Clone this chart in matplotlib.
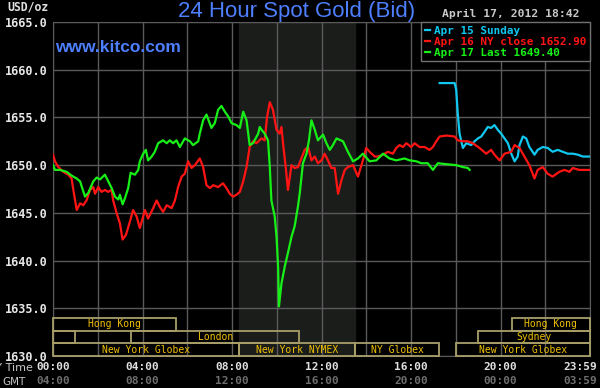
import matplotlib
matplotlib.use('Agg')
import matplotlib.pyplot as plt
from matplotlib.patches import Rectangle

# hours (New York time) and bid prices
green_t = [0.00, 0.09, 0.31, 0.61, 0.83, 1.06, 1.21, 1.43, 1.58, 1.80, 1.95, 2.10, 2.32, 2.47,
           2.62, 2.77, 2.92, 2.99, 3.11, 3.21, 3.36, 3.47, 3.66, 3.81, 3.88, 4.03, 4.15, 4.25,
           4.41, 4.55, 4.70, 4.92, 5.08, 5.22, 5.37, 5.52, 5.67, 5.89, 6.12, 6.26, 6.49, 6.56,
           6.71, 6.86, 7.08, 7.23, 7.38, 7.53, 7.68, 7.83, 7.98, 8.20, 8.35, 8.50, 8.65, 8.79,
           8.94, 9.17, 9.24, 9.32, 9.46, 9.61, 9.69, 9.76, 9.91, 9.99, 10.06, 10.10, 10.21,
           10.36, 10.50, 10.66, 10.80, 10.95, 11.03, 11.17, 11.33, 11.44, 11.55, 11.70, 11.84,
           12.07, 12.22, 12.37, 12.51, 12.67, 12.96, 13.18, 13.41, 13.63, 13.85, 14.15, 14.45,
           14.75, 15.04, 15.34, 15.71, 15.94, 16.24, 16.46, 16.75, 16.98, 17.20, 17.58, 18.02,
           18.32, 18.54, 18.62]
green_p = [1650.0, 1649.5, 1649.5, 1649.3, 1648.9, 1648.6, 1648.3, 1646.7, 1647.1, 1648.3, 1648.7,
           1648.5, 1649.0, 1648.3, 1647.6, 1646.7, 1646.4, 1646.9, 1645.9, 1646.5, 1647.6, 1649.2,
           1649.0, 1649.5, 1650.4, 1651.2, 1651.6, 1650.5, 1650.9, 1651.4, 1652.3, 1652.6, 1652.3,
           1652.6, 1652.3, 1652.6, 1651.9, 1652.8, 1652.5, 1652.1, 1652.5, 1653.3, 1654.7, 1655.3,
           1653.9, 1654.4, 1655.8, 1656.2, 1655.6, 1655.1, 1654.4, 1654.2, 1653.9, 1655.6, 1654.7,
           1652.1, 1652.3, 1653.3, 1654.0, 1653.7, 1653.3, 1652.6, 1649.8, 1646.3, 1644.6, 1642.5,
           1639.4, 1635.2, 1637.6, 1639.4, 1640.8, 1642.5, 1643.6, 1645.7, 1647.1, 1650.2, 1651.2,
           1652.6, 1654.7, 1653.7, 1652.6, 1653.2, 1652.3, 1651.6, 1652.1, 1652.8, 1652.5, 1651.4,
           1650.4, 1650.7, 1651.2, 1650.4, 1650.5, 1651.2, 1650.7, 1650.5, 1650.7, 1650.5, 1650.4,
           1650.2, 1650.2, 1649.5, 1650.2, 1650.1, 1650.0, 1649.8, 1649.7, 1649.5]

red_t = [0.00, 0.09, 0.24, 0.46, 0.68, 0.83, 0.91, 1.06, 1.21, 1.35, 1.50, 1.65, 1.80, 1.88, 2.02,
         2.17, 2.32, 2.47, 2.62, 2.69, 2.84, 2.99, 3.11, 3.26, 3.44, 3.58, 3.74, 3.88, 4.11, 4.25,
         4.48, 4.63, 4.78, 4.92, 5.08, 5.30, 5.45, 5.59, 5.75, 5.89, 6.04, 6.19, 6.34, 6.56, 6.71,
         6.86, 7.01, 7.16, 7.38, 7.60, 7.75, 7.90, 8.05, 8.20, 8.35, 8.50, 8.65, 8.79, 8.94, 9.09,
         9.32, 9.46, 9.57, 9.69, 9.83, 9.99, 10.13, 10.21, 10.28, 10.40, 10.50, 10.66, 10.80,
         10.95, 11.10, 11.25, 11.40, 11.55, 11.70, 11.84, 12.00, 12.14, 12.29, 12.44, 12.59,
         12.74, 12.89, 13.04, 13.18, 13.41, 13.63, 13.85, 14.00, 14.15, 14.38, 14.52, 14.75,
         14.97, 15.19, 15.34, 15.49, 15.64, 15.79, 16.01, 16.16, 16.38, 16.61, 16.83, 16.98,
         17.13, 17.28, 17.58, 17.95, 18.09, 18.32, 18.54, 18.76, 19.06, 19.36, 19.58, 19.73,
         19.96, 20.18, 20.48, 20.63, 20.85, 21.07, 21.29, 21.52, 21.66, 21.89, 22.11, 22.33,
         22.63, 22.86, 23.08, 23.23, 23.53, 23.95]
red_p = [1651.1, 1650.4, 1649.8, 1649.3, 1649.0, 1648.6, 1647.4, 1645.3, 1646.0, 1645.8, 1646.3,
         1647.4, 1647.7, 1647.0, 1647.7, 1647.2, 1647.4, 1647.2, 1647.4, 1646.3, 1645.0, 1643.9,
         1642.2, 1642.7, 1644.1, 1645.3, 1644.6, 1643.4, 1645.3, 1644.4, 1645.5, 1646.3, 1645.6,
         1645.1, 1645.8, 1645.5, 1646.3, 1647.7, 1648.8, 1649.1, 1650.4, 1649.7, 1650.0, 1650.7,
         1649.8, 1647.9, 1647.6, 1647.9, 1647.7, 1648.1, 1647.6, 1647.0, 1646.7, 1646.9, 1647.2,
         1648.3, 1649.8, 1651.9, 1652.5, 1652.3, 1652.8, 1652.6, 1655.1, 1656.6, 1655.8, 1653.7,
         1653.3, 1654.0, 1652.3, 1649.8, 1647.4, 1650.0, 1649.7, 1649.8, 1650.7, 1651.6, 1651.9,
         1650.5, 1650.9, 1650.2, 1650.5, 1651.2, 1650.5, 1649.7, 1649.7, 1647.0, 1648.4, 1649.5,
         1649.8, 1650.0, 1648.8, 1650.5, 1651.8, 1651.4, 1650.9, 1650.9, 1651.1, 1651.4, 1651.2,
         1651.8, 1652.1, 1651.9, 1652.3, 1651.9, 1652.3, 1651.9, 1651.9, 1651.6, 1651.9, 1652.5,
         1653.0, 1653.1, 1653.0, 1652.6, 1652.5, 1652.5, 1652.3, 1651.8, 1651.2, 1651.6, 1651.1,
         1650.5, 1651.2, 1651.4, 1652.1, 1651.8, 1650.9, 1650.0, 1648.6, 1649.5, 1649.8, 1649.1,
         1648.8, 1649.3, 1649.5, 1649.3, 1649.7, 1649.5, 1649.5]

cyan_t = [17.28, 17.95, 18.02, 18.09, 18.17, 18.25, 18.32, 18.47, 18.69, 18.84, 18.99, 19.14,
          19.29, 19.43, 19.58, 19.73, 19.88, 20.03, 20.18, 20.33, 20.48, 20.63, 20.77, 20.85,
          21.00, 21.15, 21.29, 21.52, 21.66, 21.89, 22.11, 22.33, 22.56, 22.78, 23.01, 23.23,
          23.45, 23.68, 23.95]
cyan_p = [1658.6, 1658.6, 1657.9, 1655.4, 1653.3, 1652.5, 1651.8, 1652.3, 1652.1, 1652.5, 1652.8,
          1653.0, 1653.5, 1654.0, 1653.9, 1654.2, 1653.7, 1653.3, 1652.8, 1652.3, 1651.2, 1650.4,
          1650.9, 1652.1, 1653.0, 1652.8, 1651.9, 1651.1, 1651.6, 1651.9, 1651.8, 1651.4, 1651.6,
          1651.4, 1651.2, 1651.2, 1651.1, 1650.9, 1650.9]

series_labels = ['Apr 15 Sunday', 'Apr 16 NY close 1652.90', 'Apr 17 Last 1649.40']

# market sessions: (row, start hour, end hour, name)
sessions = [(0, 0.0, 5.5, 'Hong Kong'), (0, 20.5, 24.0, 'Hong Kong'),
            (1, 0.0, 1.0, ''), (1, 3.5, 11.0, 'London'), (1, 19.0, 24.0, 'Sydney'),
            (2, 0.0, 8.333, 'New York Globex'), (2, 8.333, 13.5, 'New York NYMEX'),
            (2, 13.5, 17.25, 'NY Globex'), (2, 18.0, 24.0, 'New York Globex')]
nymex_open, nymex_close = 8.333, 13.5

ny_ticks = [0, 4, 8, 12, 16, 20, 23.983]
ny_labels = ['00:00', '04:00', '08:00', '12:00', '16:00', '20:00', '23:59']
gmt_labels = ['04:00', '08:00', '12:00', '16:00', '20:00', '00:00', '03:59']

mono = 'DejaVu Sans Mono'
fig = plt.figure(figsize=(6, 3.88), dpi=100, facecolor='black')
ax = fig.add_axes([53/600, 32/388, 537/600, 334/388], facecolor='black')

ax.axvspan(nymex_open, nymex_close, color='#1b1d1b', zorder=0)
ax.plot(cyan_t, cyan_p, color='#10c8f0', lw=1.6, label=series_labels[0], zorder=3)
ax.plot(red_t, red_p, color='#ff1414', lw=1.6, label=series_labels[1], zorder=3)
ax.plot(green_t, green_p, color='#16f016', lw=1.6, label=series_labels[2], zorder=4)

ax.set_xlim(0, 24)
ax.set_ylim(1630, 1665)
ax.set_xticks(range(0, 25, 2))
ax.set_yticks(range(1630, 1666, 5))
ax.set_xticklabels([])
ax.set_yticklabels(['%.1f' % v for v in range(1630, 1666, 5)])
ax.tick_params(length=0, pad=4, labelcolor='#e8e8e8')
for lab in ax.get_yticklabels():
    lab.set_fontfamily(mono)
    lab.set_fontweight('bold')
    lab.set_fontsize(8.5)
ax.grid(True, color='#5a5a5a', lw=1)
ax.set_axisbelow(True)
for s in ax.spines.values():
    s.set_color('#5a5a5a')

# session boxes
row_h = 35 * 12.6 / 334
for row, t0, t1, name in sessions:
    y0 = 1630 + (2 - row) * row_h
    ax.add_patch(Rectangle((t0, y0), t1 - t0, row_h, fill=False, edgecolor='#a89f68',
                           lw=1.3, zorder=5, clip_on=False))
    if name:
        ax.text((t0 + t1) / 2, y0 + row_h / 2, name, color='#f0c000', fontsize=7,
                family=mono, ha='center', va='center', zorder=6)

leg = ax.legend(loc='upper right', bbox_to_anchor=(1, 1), borderaxespad=0, fancybox=False,
                facecolor='black', edgecolor='#707070', framealpha=1, labelcolor='linecolor',
                prop={'family': mono, 'weight': 'bold', 'size': 7.9}, handlelength=0.5,
                handletextpad=0.3, labelspacing=0.08, borderpad=0.35)
leg.set_zorder(7)

# bottom time labels
for i, (t, a, b) in enumerate(zip(ny_ticks, ny_labels, gmt_labels)):
    x = ax.transData.transform((t, 1630))[0] / 600
    ha = 'center'
    if i == len(ny_ticks) - 1:
        x, ha = 597/600, 'right'
    fig.text(x, 1 - 367/388, a, color='#e0e0e0', family=mono, weight='bold', fontsize=8,
             ha=ha, va='center')
    fig.text(x, 1 - 381/388, b, color='#6e6e6e', family=mono, weight='bold', fontsize=8,
             ha=ha, va='center')
fig.text(33/600, 1 - 368/388, 'NY Time', color='#c8c8c8', family='DejaVu Sans', fontsize=8,
         ha='right', va='center')
fig.text(2/600, 1 - 382/388, 'GMT', color='#c8c8c8', family='DejaVu Sans', fontsize=7.5,
         ha='left', va='center')

fig.text(49/600, 1 - 7/388, 'USD/oz', color='#e0e0e0', family=mono, weight='bold',
         fontsize=8.3, ha='right', va='center')
fig.text(297/600, 1 - 12/388, '24 Hour Spot Gold (Bid)', color='#4d7fff',
         family='Liberation Sans', fontsize=16, ha='center', va='center')
fig.text(580/600, 1 - 14/388, 'April 17, 2012 18:42', color='#c8c8c8', family=mono,
         weight='bold', fontsize=8.2, ha='right', va='center')
ax.text(0.004, 0.925, 'www.kitco.com', transform=ax.transAxes, color='#4d7fff',
        family='Liberation Sans', weight='bold', fontsize=12.5, ha='left', va='center')

fig.savefig('out.png', dpi=100, facecolor='black')
